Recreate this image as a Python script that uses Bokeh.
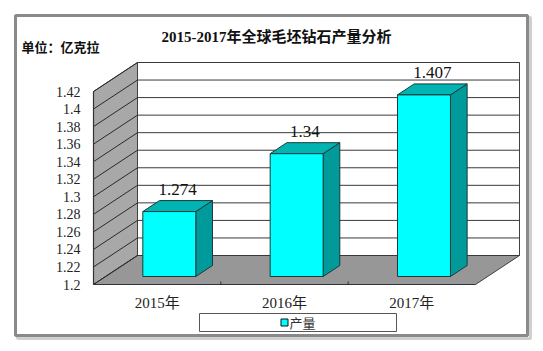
from bokeh.plotting import figure
from bokeh.models import Range1d
from bokeh.core.properties import value
from bokeh.embed import file_html
from bokeh.resources import INLINE

# ---------------- data ----------------
title_text = "2015-2017年全球毛坯钻石产量分析"
unit_text = "单位：亿克拉"
categories = ["2015年", "2016年", "2017年"]
production = [1.274, 1.34, 1.407]
value_labels = ["1.274", "1.34", "1.407"]
series_name = "产量"
y_ticks = [1.2, 1.22, 1.24, 1.26, 1.28, 1.3, 1.32, 1.34, 1.36, 1.38, 1.4, 1.42]
y_tick_labels = ["1.2", "1.22", "1.24", "1.26", "1.28", "1.3", "1.32", "1.34",
                 "1.36", "1.38", "1.4", "1.42"]

# ---------------- layout constants ----------------
W, H = 543, 351
X_LEFT_PX, X_RIGHT_PX = 93, 475      # front plane extent of the category axis
Y_BASE_PX, Y_TOP_PX = 284, 91        # front plane pixel rows of y min / y max
Y_MIN, Y_MAX = y_ticks[0], y_ticks[-1]
DEPTH_PX = (44, 29)                  # 3-D depth offset of the walls
BAR_W = 0.416                        # bar width in category units
F0, F1 = 0.276, 0.655                # bar front / back depth fractions

n = len(categories)
px_per_cat = (X_RIGHT_PX - X_LEFT_PX) / n
px_per_val = (Y_BASE_PX - Y_TOP_PX) / (Y_MAX - Y_MIN)
DX = DEPTH_PX[0] / px_per_cat
DY = DEPTH_PX[1] / px_per_val

SERIF = value("'Liberation Serif', 'Noto Sans CJK SC'")
SANS = value("'Noto Sans CJK SC'")

p = figure(width=W, height=H,
           x_range=Range1d(-X_LEFT_PX / px_per_cat, (W - X_LEFT_PX) / px_per_cat),
           y_range=Range1d(Y_MIN - (H - Y_BASE_PX) / px_per_val, Y_MIN + Y_BASE_PX / px_per_val),
           x_axis_type=None, y_axis_type=None, toolbar_location=None,
           output_backend="svg", min_border=0, outline_line_color=None,
           background_fill_color="white", border_fill_color="white")
p.extra_x_ranges = {"px": Range1d(0, W)}
p.extra_y_ranges = {"px": Range1d(H, 0)}
PX = dict(x_range_name="px", y_range_name="px")

# outer chart frame with shadow
p.quad(left=17, right=530, top=17, bottom=338, fill_color=None,
       line_color="#d0d0d0", line_width=3, **PX)
p.quad(left=15, right=527, top=15, bottom=335, fill_color="white",
       line_color="#8a8a8a", line_width=3, **PX)

# walls and floor
p.quad(left=DX, right=n + DX, bottom=Y_MIN + DY, top=Y_MAX + DY,
       fill_color="white", line_color="#404040", line_width=1)
p.patch([0, DX, DX, 0], [Y_MIN, Y_MIN + DY, Y_MAX + DY, Y_MAX],
        fill_color="#a8a8a8", line_color="#404040", line_width=1)
p.patch([0, n, n + DX, DX], [Y_MIN, Y_MIN, Y_MIN + DY, Y_MIN + DY],
        fill_color="#979797", line_color="#404040", line_width=1)

# gridlines on back wall and left wall
p.segment(x0=[DX] * len(y_ticks), x1=[n + DX] * len(y_ticks),
          y0=[t + DY for t in y_ticks], y1=[t + DY for t in y_ticks],
          line_color="#3a3a3a", line_width=1)
p.segment(x0=[0] * len(y_ticks), x1=[DX] * len(y_ticks),
          y0=y_ticks, y1=[t + DY for t in y_ticks],
          line_color="#2a2a2a", line_width=1)

# front axis edges
p.segment(x0=[0, 0], x1=[0, n], y0=[Y_MIN, Y_MIN], y1=[Y_MAX, Y_MIN],
          line_color="#333333", line_width=1.2)
bounds = list(range(1, n))
p.segment(x0=bounds, x1=bounds, y0=[Y_MIN] * len(bounds),
          y1=[Y_MIN + 3 / px_per_val] * len(bounds), line_color="#333333", line_width=1)

# bars
centers = [i + 0.5 for i in range(n)]
L0 = [c - BAR_W / 2 + F0 * DX for c in centers]
R0 = [c + BAR_W / 2 + F0 * DX for c in centers]
L1 = [c - BAR_W / 2 + F1 * DX for c in centers]
R1 = [c + BAR_W / 2 + F1 * DX for c in centers]
B0 = Y_MIN + F0 * DY
B1 = Y_MIN + F1 * DY
V0 = [v + F0 * DY for v in production]
V1 = [v + F1 * DY for v in production]

p.patches(xs=[[r0, r1, r1, r0] for r0, r1 in zip(R0, R1)],
          ys=[[B0, B1, v1, v0] for v0, v1 in zip(V0, V1)],
          fill_color="#009a9a", line_color="#1a3a3a", line_width=1)
p.patches(xs=[[l0, r0, r1, l1] for l0, r0, l1, r1 in zip(L0, R0, L1, R1)],
          ys=[[v0, v0, v1, v1] for v0, v1 in zip(V0, V1)],
          fill_color="#00b4b4", line_color="#1a3a3a", line_width=1)
p.quad(left=L0, right=R0, bottom=[B0] * n, top=V0,
       fill_color="#00ffff", line_color="#1a3a3a", line_width=1)

# value labels
p.text(x=[c + (F0 + F1) / 2 * DX for c in centers], y=V1, text=value_labels,
       text_align="center", text_baseline="bottom", y_offset=-6,
       text_font=SERIF, text_font_size="17px", text_color="#111111")

# y tick labels
p.text(x=[0] * len(y_ticks), y=y_ticks, text=y_tick_labels, x_offset=-13,
       text_align="right", text_baseline="middle",
       text_font=SERIF, text_font_size="14px", text_color="#222222")

# category labels
p.text(x=centers, y=[Y_MIN] * n, text=categories, y_offset=18,
       text_align="center", text_baseline="middle",
       text_font=SERIF, text_font_size="15px", text_color="#222222")

# title and unit
p.text(x=[276], y=[36.5], text=[title_text], text_align="center",
       text_baseline="middle", text_font=SERIF, text_font_size="15px",
       text_font_style="bold", text_color="#111111", **PX)
p.text(x=[21], y=[47], text=[unit_text], text_align="left",
       text_baseline="middle", text_font=SERIF, text_font_size="13px",
       text_font_style="bold", text_color="#111111", **PX)

# legend
p.quad(left=199, right=396, top=313, bottom=331, fill_color="white",
       line_color="#555555", line_width=1, **PX)
p.scatter(x=[284], y=[322], marker="square", size=7, fill_color="#00ffff",
          line_color="#111111", line_width=1, **PX)
p.text(x=[289], y=[322], text=[series_name], text_align="left",
       text_baseline="middle", text_font=SANS, text_font_size="13px",
       text_color="#333333", **PX)

open("out.html", "w").write(file_html(p, INLINE))
